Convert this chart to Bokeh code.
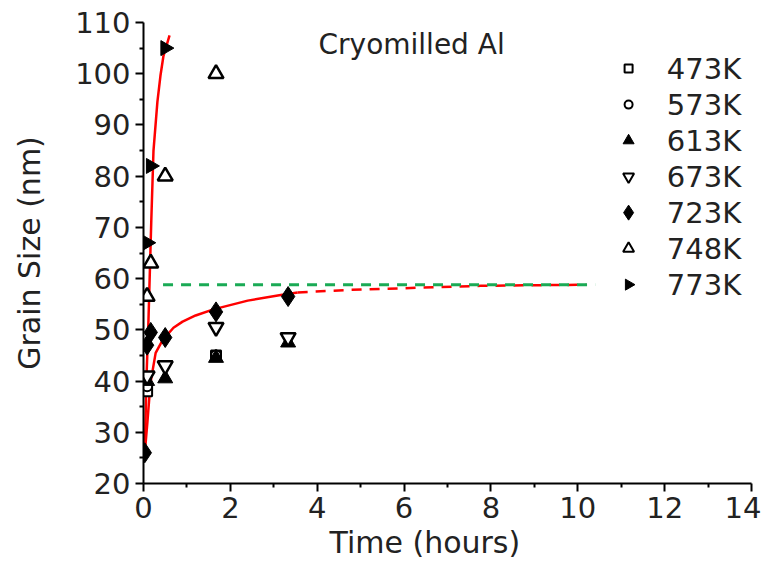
from bokeh.plotting import figure
from bokeh.models import Label, Range1d, FixedTicker, Title
from bokeh.core.properties import value
from bokeh.embed import file_html
from bokeh.resources import INLINE
import math

# ---- data ----
t_473 = [0.083, 1.67]
g_473 = [38, 45]
t_573 = [0.083, 1.67]
g_573 = [39, 45]
t_613 = [0.083, 0.5, 1.67, 3.33]
g_613 = [40, 40.5, 44.5, 47.5]
t_673 = [0.083, 0.5, 1.67, 3.33]
g_673 = [41, 43, 50.5, 48.5]
t_723 = [0.03, 0.083, 0.167, 0.5, 1.67, 3.33]
g_723 = [26, 47, 49.5, 48.5, 53.5, 56.5]
t_748 = [0.083, 0.167, 0.5, 1.67]
g_748 = [56.5, 63, 80, 100]
t_773 = [0.083, 0.167, 0.5]
g_773 = [67, 82, 105]

fit773_t = [0.03, 0.07, 0.115, 0.18, 0.23, 0.32, 0.39, 0.46, 0.6]
fit773_g = [26, 41, 52, 71.5, 85, 94.5, 99.6, 103.5, 107.5]
fit723_t = [0.03, 0.09, 0.16, 0.28, 0.44, 0.69, 0.9, 1.2, 1.61, 2.4, 3.16, 3.55]
fit723_g = [26, 32, 39.6, 45.5, 48, 50.4, 51.6, 52.8, 54.0, 55.7, 56.8, 57.3]
ext723_t = [3.55, 4.77, 7.77, 10.2]
ext723_g = [57.3, 57.8, 58.6, 58.8]
limit_t = [0.45, 10.4]
limit_g = [58.8, 58.8]

series_labels = ["473K", "573K", "613K", "673K", "723K", "748K", "773K"]
x_ticks = [0, 2, 4, 6, 8, 10, 12, 14]
y_ticks = [20, 30, 40, 50, 60, 70, 80, 90, 100, 110]

FONT = "DejaVu Sans"
TXT = "#222222"

p = figure(width=761, height=570, output_backend="svg", toolbar_location=None,
           x_range=Range1d(0, 14), y_range=Range1d(20, 110),
           min_border_left=143, min_border_right=10, min_border_top=22, min_border_bottom=87)
p.outline_line_color = None
p.grid.visible = False
p.background_fill_color = "white"

for ax in (p.xaxis[0], p.yaxis[0]):
    ax.axis_line_width = 2
    ax.axis_line_color = "black"
    ax.major_tick_line_width = 2
    ax.minor_tick_line_width = 2
    ax.major_tick_out = 8
    ax.major_tick_in = 0
    ax.minor_tick_out = 4
    ax.minor_tick_in = 0
    ax.major_label_text_font = FONT
    ax.major_label_text_font_size = "29px"
    ax.major_label_text_color = TXT
    ax.axis_label_text_font = FONT
    ax.axis_label_text_font_size = "30px"
    ax.axis_label_text_font_style = "normal"
    ax.axis_label_text_color = TXT

p.xaxis.ticker = FixedTicker(ticks=x_ticks, minor_ticks=[1, 3, 5, 7, 9, 11, 13])
p.yaxis.ticker = FixedTicker(ticks=y_ticks, minor_ticks=[25, 35, 45, 55, 65, 75, 85, 95, 105])
p.yaxis.axis_label = "Grain Size (nm)"
p.xaxis.major_label_standoff = 5
p.yaxis.major_label_standoff = 5
p.yaxis.axis_label_standoff = 25

# x-axis title, placed slightly left of centre as in the reference
p.add_layout(Title(text="Time (hours)", text_font=FONT, text_font_size="30px", text_font_style="normal",
                   text_color=TXT, align="left", offset=186, standoff=4), "below")

# fits
p.line(fit773_t, fit773_g, line_color="#ff0000", line_width=2.5)
p.line(fit723_t, fit723_g, line_color="#ff0000", line_width=2.5)
p.line(ext723_t, ext723_g, line_color="#ff0000", line_width=2.5, line_dash="10 8")
p.line(limit_t, limit_g, line_color="#1aaa55", line_width=3, line_dash="10 8")

styles = [
    dict(marker="square", size=10, fill_color="white", line_color="black", line_width=2),
    dict(marker="circle", size=10, fill_color="white", line_color="black", line_width=2),
    dict(marker="triangle", size=15, fill_color="black", line_color="black"),
    dict(marker="inverted_triangle", size=15, fill_color="white", line_color="black", line_width=2.5),
    dict(marker="diamond", size=20, fill_color="black", line_color="black"),
    dict(marker="triangle", size=15, fill_color="white", line_color="black", line_width=2.5),
    dict(marker="triangle", angle=-math.pi / 2, size=15, fill_color="black", line_color="black"),
]
legend_styles = [
    dict(marker="square", size=8, fill_color="white", line_color="black", line_width=2),
    dict(marker="circle", size=8, fill_color="white", line_color="black", line_width=2),
    dict(marker="triangle", size=11, fill_color="black", line_color="black"),
    dict(marker="inverted_triangle", size=11, fill_color="white", line_color="black", line_width=2),
    dict(marker="diamond", size=15, fill_color="black", line_color="black"),
    dict(marker="triangle", size=11, fill_color="white", line_color="black", line_width=2),
    dict(marker="triangle", angle=-math.pi / 2, size=11, fill_color="black", line_color="black"),
]
ts = [t_473, t_573, t_613, t_673, t_723, t_748, t_773]
gs = [g_473, g_573, g_613, g_673, g_723, g_748, g_773]
for t, g, st in zip(ts, gs, styles):
    p.scatter(t, g, **st)

# legend (layout: first row and row step in data units)
LEG_X_MARK, LEG_X_TEXT, LEG_Y0, LEG_DY = 11.17, 12.05, 101.0, 7.03
for i, (lab, st) in enumerate(zip(series_labels, legend_styles)):
    yy = LEG_Y0 - LEG_DY * i
    p.scatter([LEG_X_MARK], [yy], **st)
    p.text([LEG_X_TEXT], [yy], text=[lab], text_font=value(FONT), text_font_size="29px",
           text_color=TXT, text_baseline="middle", text_align="left")

p.add_layout(Label(x=4.03, y=105.8, text="Cryomilled Al", text_font=FONT, text_font_size="28px",
                   text_color=TXT, text_baseline="middle", text_align="left"))

open("out.html", "w").write(file_html(p, INLINE))
